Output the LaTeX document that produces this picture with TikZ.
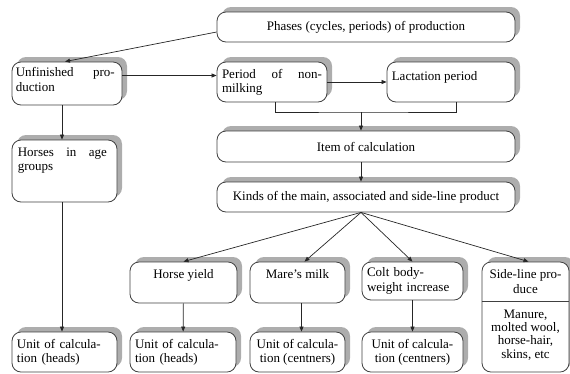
\documentclass[tikz,border=0pt]{standalone}
\usepackage{fontspec}
\setmainfont{Liberation Serif}
\usetikzlibrary{arrows.meta,positioning,shadows}

\begin{document}
\begin{tikzpicture}[x=1bp,y=-1bp,font=\fontsize{13bp}{14.3bp}\selectfont]
  \tikzset{
    pbox/.style={draw=black!75,line width=0.8bp,fill=white,rounded corners=9bp,inner sep=0pt,
      drop shadow={shadow xshift=5bp,shadow yshift=5bp,fill=black!32,opacity=1}},
    txt/.style={inner sep=0pt},
    arr/.style={draw=black!85,line width=0.7bp,-{Triangle[length=5bp,width=4bp]}},
    link/.style={draw=black!85,line width=0.7bp}
  }
  \useasboundingbox (0,0) rectangle (570,373);
  % ---------------- phases and periods
  \node[pbox,minimum width=298bp,minimum height=30bp] (phases) at (366,27) {Phases (cycles, periods) of production};
  \node[pbox,minimum width=110bp,minimum height=43bp] (unf) at (67,83.5) {};
  \node[txt,text width=99bp,align=left,below right=6bp and 4bp of unf.north west] (unftxt) {Unfinished\hfill pro-\\duction};
  \node[pbox,minimum width=110bp,minimum height=40bp,text width=100bp,inner xsep=5bp,align=left] (nonmilk) at (272,82) {Period\hfill of\hfill non-\\milking};
  \node[pbox,minimum width=128bp,minimum height=40bp] (lact) at (451,82) {};
  \node[txt,below right=10bp and 5bp of lact.north west] (lacttxt) {Lactation period};
  % ---------------- item and kinds
  \node[pbox,minimum width=298bp,minimum height=31bp] (item) at (366,146.5) {Item of calculation};
  \node[pbox,minimum width=298bp,minimum height=30bp] (kinds) at (366,197) {Kinds of the main, associated and side-line product};
  \node[pbox,minimum width=105bp,minimum height=62bp] (horses) at (64.5,171) {};
  \node[txt,text width=89bp,align=left,below right=8bp and 6bp of horses.north west] (horsestxt) {Horses\hfill in\hfill age\\groups};
  % ---------------- products
  \node[pbox,minimum width=107bp,minimum height=41bp] (yield) at (183.5,282.5) {};
  \node[txt,below=8bp of yield.north] (yieldtxt) {Horse yield};
  \node[pbox,minimum width=95bp,minimum height=41bp] (milk) at (297.5,282.5) {};
  \node[txt,below=8bp of milk.north] (milktxt) {Mare's milk};
  \node[pbox,minimum width=101bp,minimum height=38bp,text width=91bp,inner xsep=5bp,align=left] (colt) at (412.5,281) {Colt body-\\weight increase};
  \node[pbox,minimum width=87bp,minimum height=110bp] (side) at (525.5,317) {};
  \draw[draw=black!75,line width=0.8bp] ([yshift=-40bp]side.north west) -- ([yshift=-40bp]side.north east);
  \node[txt,align=center,below=8bp of side.north] (sidetop) {Side-line pro-\\duce};
  \node[txt,align=center,font=\fontsize{13bp}{13.3bp}\selectfont,below=48bp of side.north] (sidebot) {Manure,\\molted wool,\\horse-hair,\\skins, etc};
  % ---------------- units
  \node[pbox,minimum width=105bp,minimum height=40bp,text width=95bp,inner xsep=5bp,align=left] (unit1) at (64.5,352) {Unit of calcula-\\tion (heads)};
  \node[pbox,minimum width=106bp,minimum height=40bp,text width=96bp,inner xsep=5bp,align=left] (unit2) at (183,352) {Unit of calcula-\\tion (heads)};
  \node[pbox,minimum width=95bp,minimum height=40bp,align=center] (unit3) at (297.5,352) {Unit of calcula-\\tion (centners)};
  \node[pbox,minimum width=101bp,minimum height=40bp,align=center] (unit4) at (412.5,352) {Unit of calcula-\\tion (centners)};
  % ---------------- connectors
  \draw[arr] ([yshift=-5bp]phases.west) -- ([xshift=-2bp]unf.north);
  \draw[arr] ([yshift=8bp]unf.east) -- ([yshift=8bp]unf.east -| nonmilk.west);
  \draw[arr] (nonmilk) -- (lact);
  \coordinate (join) at (361,112);
  \draw[link] ([xshift=3bp]nonmilk.south) |- (join) -| ([xshift=5bp]lact.south);
  \draw[arr] (join) -- (join |- item.north);
  \draw[arr] (join |- item.south) -- (join |- kinds.north);
  \coordinate (hub) at (join |- kinds.south);
  \draw[arr] (hub) -- (yield.north);
  \draw[arr] (hub) -- ([xshift=7bp]milk.north);
  \draw[arr] (hub) -- (colt.north);
  \draw[arr] (hub) -- ([xshift=3bp]side.north);
  \draw[arr] ([xshift=-5bp]unf.south) -- ([xshift=-5bp]unf.south |- horses.north);
  \draw[arr] ([xshift=-2.5bp]horses.south) -- ([xshift=-2.5bp]unit1.north);
  \draw[arr] (yield) -- (unit2);
  \draw[arr] ([xshift=4bp]milk.south) -- ([xshift=4bp]unit3.north);
  \draw[arr] (colt) -- (unit4);
\end{tikzpicture}
\end{document}
